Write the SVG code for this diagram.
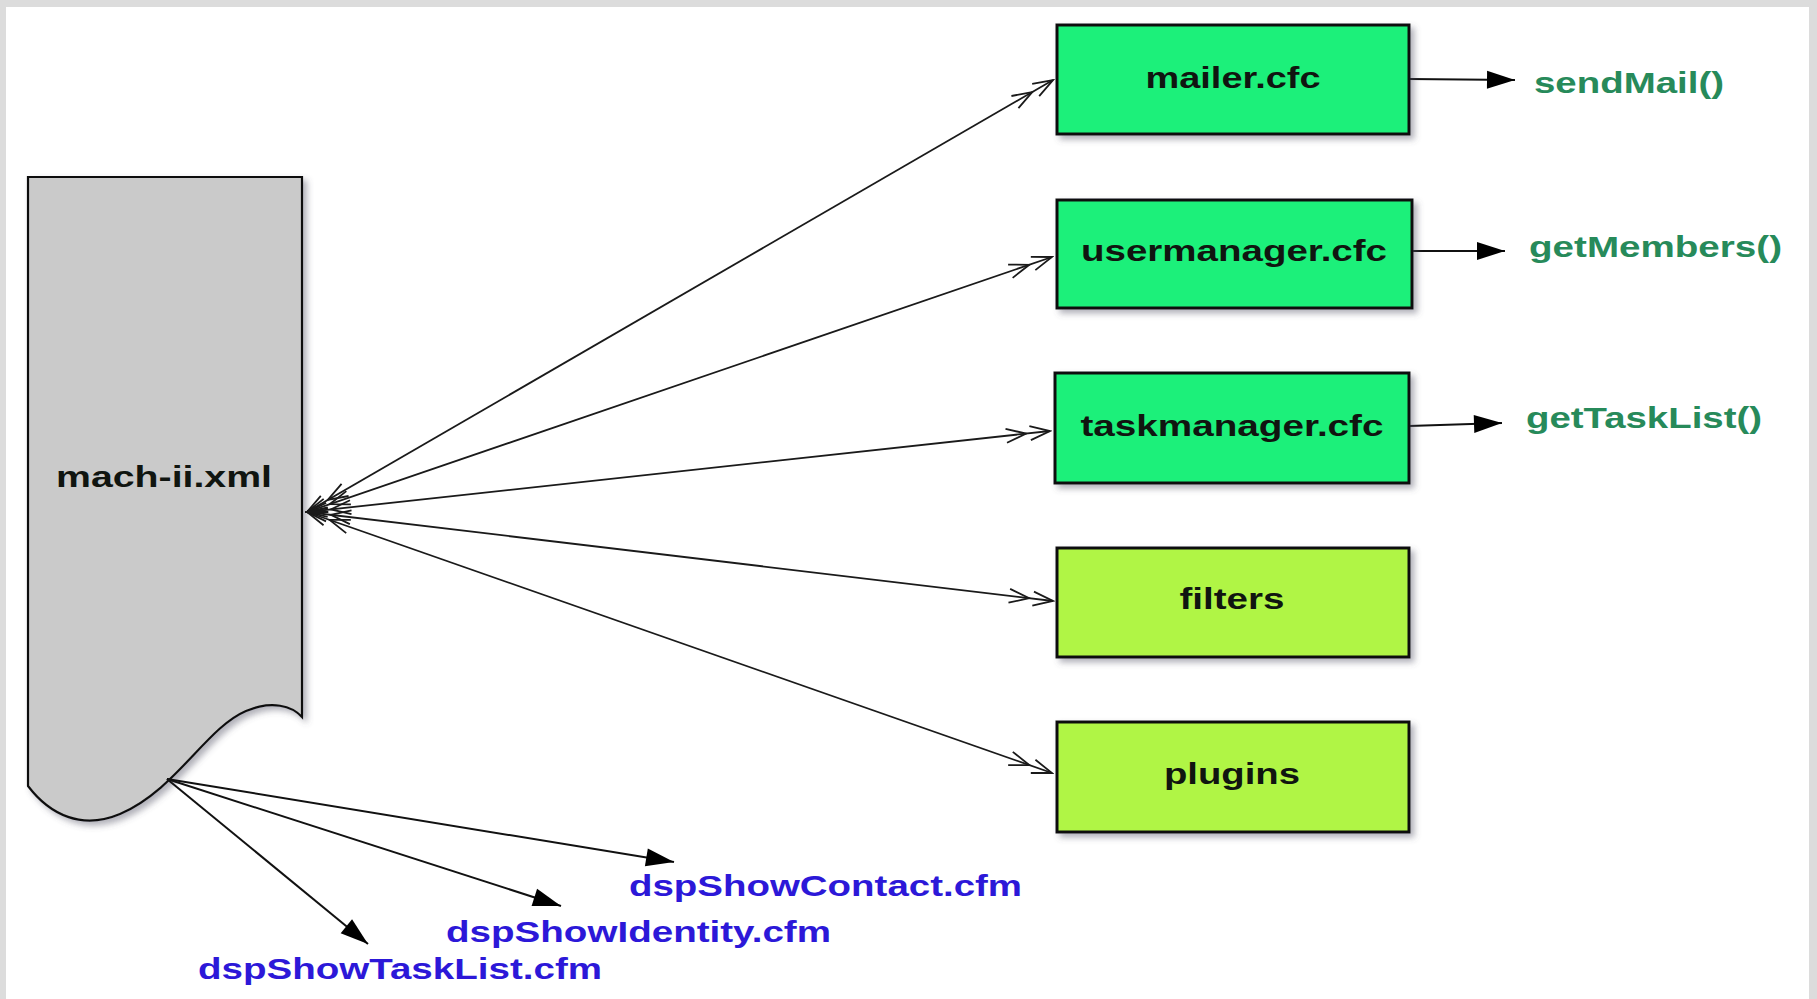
<svg xmlns="http://www.w3.org/2000/svg" width="1817" height="999" viewBox="0 0 1817 999">
  <defs>
    <style>
      .lbl { font-family: "Liberation Sans", Arial, sans-serif; font-weight: bold; font-size: 30px; }
      .node-text { fill: #101510; text-anchor: middle; }
      .method { fill: #278a5a; }
      .view { fill: #2c18d8; }
      .box { stroke: #111; stroke-width: 3; }
      .cfc { fill: #1ef07a; }
      .ext { fill: #b0f545; }
      .link { fill: none; stroke: #1a1a1a; stroke-width: 1.8; }
      .call { fill: none; stroke: #111; stroke-width: 2; }
    </style>
    <filter id="shadow" x="-10%" y="-10%" width="130%" height="130%">
      <feDropShadow dx="4" dy="4" stdDeviation="3" flood-color="#556" flood-opacity="0.45"/>
    </filter>
    <!-- double open chevron used on both ends of the configuration links -->
    <marker id="dbl" viewBox="-50 -10 52 20" refX="0" refY="0" markerWidth="52" markerHeight="20" markerUnits="userSpaceOnUse" orient="auto-start-reverse">
      <path d="M-20,-7 L0,0 L-20,7 M-44,-7 L-24,0 L-44,7" fill="none" stroke="#1a1a1a" stroke-width="1.8"/>
    </marker>
    <!-- solid arrowhead for calls and views -->
    <marker id="tri" viewBox="-30 -11 32 22" refX="0" refY="0" markerWidth="32" markerHeight="22" markerUnits="userSpaceOnUse" orient="auto">
      <path d="M0,0 L-28,-9 L-28,9 Z" fill="#000"/>
    </marker>
  </defs>

  <!-- frame -->
  <rect x="0" y="0" width="1817" height="999" fill="#dcdcdc"/>
  <rect x="6" y="7" width="1803" height="992" fill="#ffffff"/>

  <!-- configuration document -->
  <g id="mach-ii">
    <path d="M28,177 L302,177 L302,717 C292,706 272,700 246,711 C206,728 176,790 120,814 C82,830 50,815 28,786 Z" fill="#cacaca" stroke="#111" stroke-width="2.2" filter="url(#shadow)"/>
    <text class="lbl node-text" x="164" y="487" textLength="216" lengthAdjust="spacingAndGlyphs">mach-ii.xml</text>
  </g>

  <g id="connectors">
    <!-- config links -->
    <line class="link" x1="307" y1="512" x2="1053" y2="80" marker-start="url(#dbl)" marker-end="url(#dbl)"/>
    <line class="link" x1="307" y1="512" x2="1052" y2="257" marker-start="url(#dbl)" marker-end="url(#dbl)"/>
    <line class="link" x1="307" y1="512" x2="1050" y2="431" marker-start="url(#dbl)" marker-end="url(#dbl)"/>
    <line class="link" x1="307" y1="512" x2="1053" y2="601" marker-start="url(#dbl)" marker-end="url(#dbl)"/>
    <line class="link" x1="307" y1="512" x2="1052" y2="773" marker-start="url(#dbl)" marker-end="url(#dbl)"/>
    <!-- method calls -->
    <line class="call" x1="1409" y1="79" x2="1515" y2="80" marker-end="url(#tri)"/>
    <line class="call" x1="1412" y1="251" x2="1505" y2="251" marker-end="url(#tri)"/>
    <line class="call" x1="1409" y1="426" x2="1502" y2="423" marker-end="url(#tri)"/>
    <!-- views -->
    <line class="call" x1="167" y1="779" x2="674" y2="862" marker-end="url(#tri)"/>
    <line class="call" x1="167" y1="779" x2="561" y2="906" marker-end="url(#tri)"/>
    <line class="call" x1="167" y1="779" x2="368" y2="944" marker-end="url(#tri)"/>
  </g>

  <g id="mailer">
    <rect class="box cfc" x="1057" y="25" width="352" height="109" filter="url(#shadow)"/>
    <text class="lbl node-text" x="1233" y="88" textLength="175" lengthAdjust="spacingAndGlyphs">mailer.cfc</text>
  </g>
  <g id="usermanager">
    <rect class="box cfc" x="1057" y="200" width="355" height="108" filter="url(#shadow)"/>
    <text class="lbl node-text" x="1234" y="261" textLength="306" lengthAdjust="spacingAndGlyphs">usermanager.cfc</text>
  </g>
  <g id="taskmanager">
    <rect class="box cfc" x="1055" y="373" width="354" height="110" filter="url(#shadow)"/>
    <text class="lbl node-text" x="1232" y="436" textLength="303" lengthAdjust="spacingAndGlyphs">taskmanager.cfc</text>
  </g>
  <g id="filters">
    <rect class="box ext" x="1057" y="548" width="352" height="109" filter="url(#shadow)"/>
    <text class="lbl node-text" x="1232" y="609" textLength="105" lengthAdjust="spacingAndGlyphs">filters</text>
  </g>
  <g id="plugins">
    <rect class="box ext" x="1057" y="722" width="352" height="110" filter="url(#shadow)"/>
    <text class="lbl node-text" x="1232" y="784" textLength="136" lengthAdjust="spacingAndGlyphs">plugins</text>
  </g>

  <g id="sendMail">
    <text class="lbl method" x="1534" y="93" textLength="190" lengthAdjust="spacingAndGlyphs">sendMail()</text>
  </g>
  <g id="getMembers">
    <text class="lbl method" x="1529" y="257" textLength="253" lengthAdjust="spacingAndGlyphs">getMembers()</text>
  </g>
  <g id="getTaskList">
    <text class="lbl method" x="1526" y="428" textLength="236" lengthAdjust="spacingAndGlyphs">getTaskList()</text>
  </g>

  <g id="dspShowContact">
    <text class="lbl view" x="629" y="896" textLength="393" lengthAdjust="spacingAndGlyphs">dspShowContact.cfm</text>
  </g>
  <g id="dspShowIdentity">
    <text class="lbl view" x="446" y="942" textLength="385" lengthAdjust="spacingAndGlyphs">dspShowIdentity.cfm</text>
  </g>
  <g id="dspShowTaskList">
    <text class="lbl view" x="198" y="979" textLength="404" lengthAdjust="spacingAndGlyphs">dspShowTaskList.cfm</text>
  </g>
</svg>
